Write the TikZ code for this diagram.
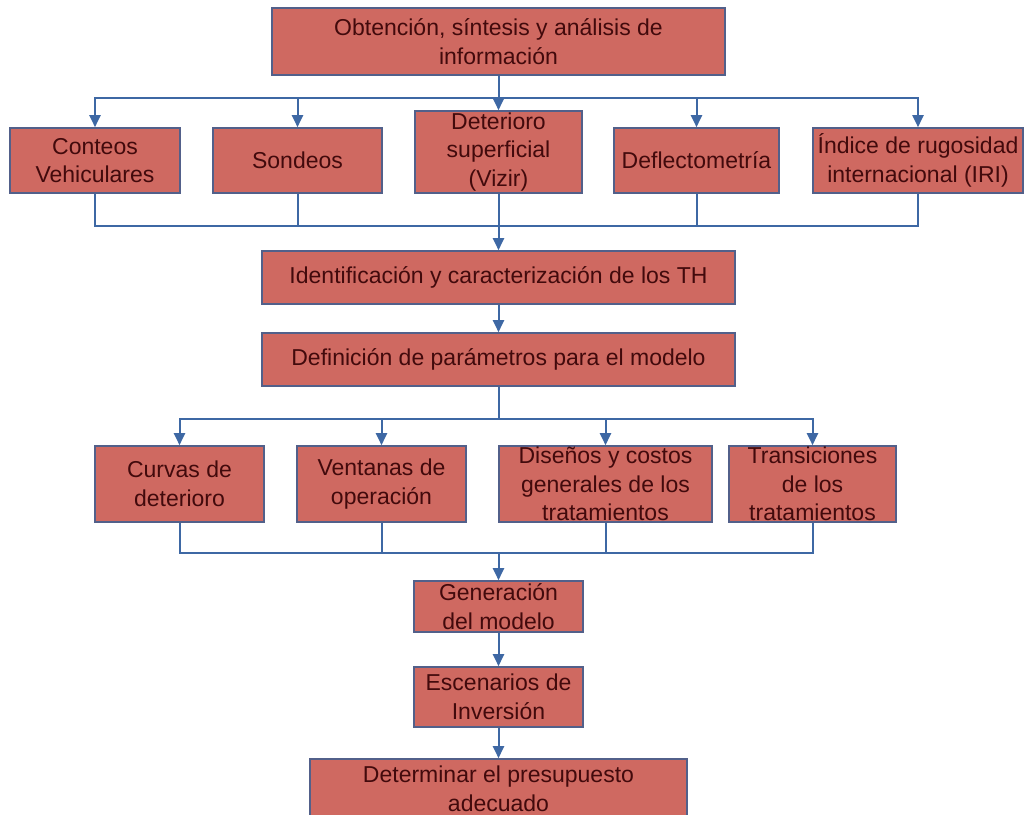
\documentclass[tikz,border=0pt]{standalone}
\usepackage{fontspec}
\setmainfont{Liberation Sans}
\usetikzlibrary{arrows.meta}
\definecolor{relleno}{RGB}{207,105,97}
\definecolor{borde}{RGB}{82,96,138}
\definecolor{texto}{RGB}{66,10,12}
\definecolor{linea}{RGB}{62,104,164}

\begin{document}
\begin{tikzpicture}[x=0.5pt,y=-0.5pt,
	caja/.style={rectangle,draw=borde,line width=0.8pt,fill=relleno,text=texto,align=center,inner sep=0pt,font=\fontsize{11.5}{14.3}\selectfont},
	conector/.style={draw=linea,line width=1pt},
	flecha/.style={conector,-{Triangle[width=5.5pt,length=6pt]}}]
	\useasboundingbox (0,0) rectangle (1031,814);

	\node[caja,minimum width=226.5pt,minimum height=33.5pt] (obt) at (498.5,41.5) {Obtención, síntesis y análisis de\\información};
	\node[caja,minimum width=85pt,minimum height=32.5pt] (conteos) at (95,160.5) {Conteos\\Vehiculares};
	\node[caja,minimum width=84.5pt,minimum height=32.5pt] (sondeos) at (297.5,160.5) {Sondeos};
	\node[caja,minimum width=83.5pt,minimum height=41pt] (deter) at (498.5,152) {Deterioro\\superficial\\(Vizir)};
	\node[caja,minimum width=82.5pt,minimum height=32.5pt] (deflec) at (696.5,160.5) {Deflectometría};
	\node[caja,minimum width=105pt,minimum height=32.5pt] (indice) at (918,160.5) {Índice de rugosidad\\internacional (IRI)};
	\node[caja,minimum width=236.5pt,minimum height=26.5pt] (ident) at (498.5,277.5) {Identificación y caracterización de los TH};
	\node[caja,minimum width=236.5pt,minimum height=26.5pt] (def) at (498.5,359.5) {Definición de parámetros para el modelo};
	\node[caja,minimum width=84.5pt,minimum height=38pt] (curvas) at (179.5,484) {Curvas de\\deterioro};
	\node[caja,minimum width=84.5pt,minimum height=38pt] (ventanas) at (381.5,484) {Ventanas de\\operación};
	\node[caja,minimum width=106.5pt,minimum height=38pt] (disenos) at (605.5,484) {Diseños y costos\\generales de los\\tratamientos};
	\node[caja,minimum width=83.5pt,minimum height=38pt] (trans) at (812.5,484) {Transiciones\\de los\\tratamientos};
	\node[caja,minimum width=84.5pt,minimum height=25.5pt] (gen) at (498.5,606.5) {Generación\\del modelo};
	\node[caja,minimum width=84.5pt,minimum height=30pt] (esc) at (498.5,697) {Escenarios de\\Inversión};
	\node[caja,minimum width=188.5pt,minimum height=30pt] (det) at (498.5,789) {Determinar el presupuesto\\adecuado};

	% primer nivel
	\draw[flecha] (obt.south) -- (deter.north);
	\foreach \n in {conteos,sondeos,deflec,indice}
		\draw[flecha] (obt.south) -- ++(0,22) -| (\n.north);
	\coordinate (u1) at (498.5,226);
	\foreach \n in {conteos,sondeos,deflec,indice}
		\draw[conector] (\n.south) |- (u1);
	\draw[flecha] (deter.south) -- (ident.north);
	\draw[flecha] (ident.south) -- (def.north);

	% segundo nivel
	\foreach \n in {curvas,ventanas,disenos,trans}
		\draw[flecha] (def.south) -- ++(0,32) -| (\n.north);
	\coordinate (u2) at (498.5,553);
	\foreach \n in {curvas,ventanas,disenos,trans}
		\draw[conector] (\n.south) |- (u2);
	\draw[flecha] (u2) -- (gen.north);
	\draw[flecha] (gen) -- (esc);
	\draw[flecha] (esc) -- (det);
\end{tikzpicture}
\end{document}
